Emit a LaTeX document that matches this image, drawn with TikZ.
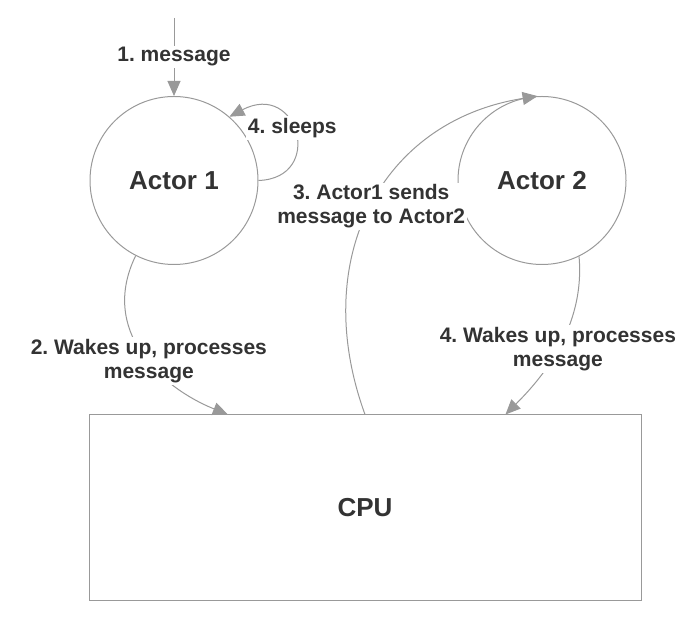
\documentclass[tikz,border=0pt]{standalone}
\usepackage{fontspec}
\setmainfont{Liberation Sans}
\frenchspacing
\usetikzlibrary{positioning,arrows.meta,calc}
\tikzset{>={Triangle[length=15pt,width=13pt]}}
\definecolor{linegray}{HTML}{999999}
\definecolor{textgray}{HTML}{333333}

\begin{document}
\begin{tikzpicture}[x=1pt, y=1pt, line width=1pt,
    every edge/.append style={color=linegray, -{Triangle[length=15pt,width=13pt]}},
    actor/.style={circle, draw=linegray, minimum size=168pt, text=textgray,
      font=\bfseries\fontsize{26}{30}\selectfont},
    cpubox/.style={rectangle, draw=linegray, minimum width=552pt, minimum height=185pt,
      text=textgray, font=\bfseries\fontsize{26}{30}\selectfont},
    lbl/.style={fill=white, inner sep=2pt, align=center, text=textgray,
      font=\bfseries\fontsize{21}{24}\selectfont}]
  \useasboundingbox (0,0) rectangle (698,618);
  \node[actor] (actor1) at (174,437.5) {Actor 1};
  \node[actor] (actor2) [right=199pt of actor1] {Actor 2};
  \node[cpubox] (cpu) at (365,110.5) {CPU};
  \coordinate (in) at (174,600); %incoming
  \coordinate (cpu1) at ($(cpu.north west)!0.252!(cpu.north east)$);
  \coordinate (cpu2) at ($(cpu.north west)!0.754!(cpu.north east)$);
  \path
    (in) edge node[lbl] {1. message} (actor1)
    (actor1.east) edge[out=2, in=28, out distance=67pt, in distance=78pt]
      node[lbl, pos=0.55] {4. sleeps} (actor1.49)
    (cpu.north) edge[out=110, in=189, out distance=165pt, in distance=159pt]
      node[lbl, pos=0.5] {3. Actor1 sends\\message to Actor2} (actor2.93)
    (actor1.243) edge[out=244, in=158, out distance=83pt, in distance=73pt]
      node[lbl, pos=0.55] {2. Wakes up, processes\\message} (cpu1)
    (actor2.296) edge[out=275, in=45, out distance=72pt, in distance=50pt]
      node[lbl, pos=0.5] {4. Wakes up, processes\\message} (cpu2);
\end{tikzpicture}
\end{document}
